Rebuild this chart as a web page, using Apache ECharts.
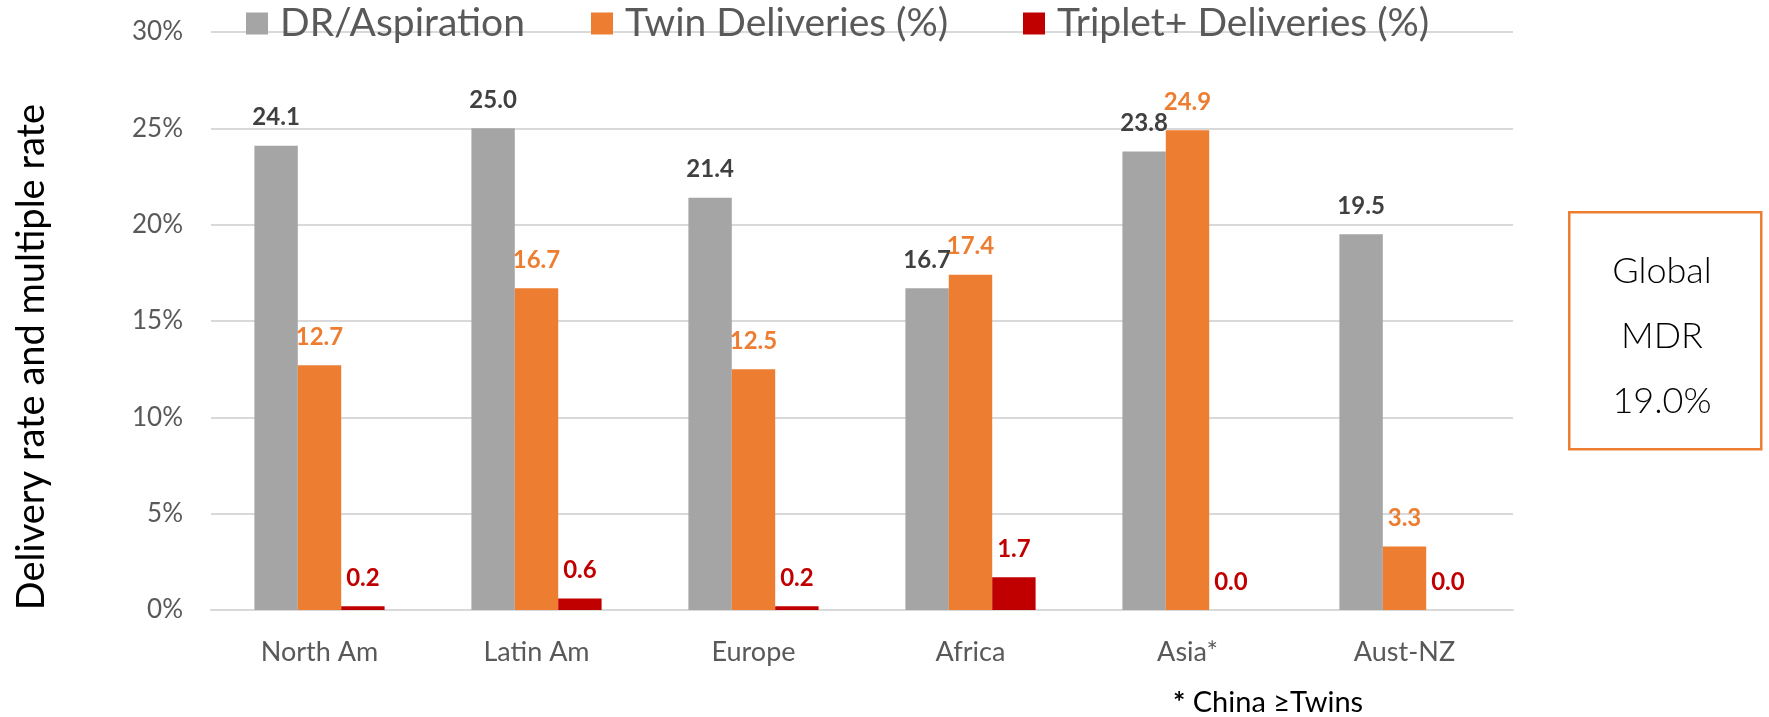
<!DOCTYPE html>
<html>
<head>
<meta charset="utf-8">
<script src="https://cdn.jsdelivr.net/npm/echarts@6/dist/echarts.min.js"></script>
<style>
  html, body { margin: 0; padding: 0; background: #fff; }
  #chart { width: 1769px; height: 717px; }
</style>
</head>
<body>
<div id="chart"></div>
<script>
var regions = ['North Am', 'Latin Am', 'Europe', 'Africa', 'Asia*', 'Aust-NZ'];
var drAspiration = [24.1, 25.0, 21.4, 16.7, 23.8, 19.5];
var twinDeliveries = [12.7, 16.7, 12.5, 17.4, 24.9, 3.3];
var tripletDeliveries = [0.2, 0.6, 0.2, 1.7, 0.0, 0.0];
var seriesNames = ['DR/Aspiration', 'Twin Deliveries (%)', 'Triplet+ Deliveries (%)'];
var globalMdr = '19.0%';

var FONT = 'Lato';

// one legend per item so the slots can be spaced like the original
function makeLegend(name, left) {
  return {
    data: [name],
    left: left,
    top: 4,
    padding: 0,
    itemWidth: 22,
    itemHeight: 22,
    icon: 'rect',
    textStyle: { fontFamily: FONT, fontSize: 39, color: '#595959', padding: [0, 0, 0, 7] }
  };
}

function barLabel(color) {
  return {
    show: true,
    position: 'top',
    distance: 16,
    fontFamily: FONT,
    fontWeight: 'bold',
    fontSize: 24,
    color: color,
    formatter: function (p) { return p.value.toFixed(1); }
  };
}

var myChart = echarts.init(document.getElementById('chart'));

var option = {
  backgroundColor: '#ffffff',
  animation: false,
  legend: [
    makeLegend(seriesNames[0], 246),
    makeLegend(seriesNames[1], 591),
    makeLegend(seriesNames[2], 1023)
  ],
  grid: { left: 211, right: 256, top: 32, bottom: 107 },
  xAxis: {
    type: 'category',
    data: regions,
    axisLine: { lineStyle: { color: '#d9d9d9', width: 2 } },
    axisTick: { show: false },
    axisLabel: { fontFamily: FONT, fontSize: 27, color: '#595959', margin: 29 }
  },
  yAxis: {
    type: 'value',
    min: 0,
    max: 30,
    interval: 5,
    axisLine: { show: false },
    axisTick: { show: false },
    axisLabel: { fontFamily: FONT, fontSize: 26, color: '#595959', margin: 28, formatter: '{value}%' },
    splitLine: { lineStyle: { color: '#d9d9d9', width: 2 } }
  },
  series: [
    {
      name: seriesNames[0],
      type: 'bar',
      data: drAspiration,
      barGap: 0,
      barCategoryGap: '40%',
      itemStyle: { color: '#a5a5a5' },
      label: barLabel('#404040')
    },
    {
      name: seriesNames[1],
      type: 'bar',
      data: twinDeliveries,
      itemStyle: { color: '#ed7d31' },
      label: barLabel('#ed7d31')
    },
    {
      name: seriesNames[2],
      type: 'bar',
      data: tripletDeliveries,
      itemStyle: { color: '#c00000' },
      label: barLabel('#c00000')
    }
  ],
  graphic: [
    // y axis title, sits a bit lower than the plot centre
    {
      type: 'text',
      x: 32,
      y: 357,
      rotation: Math.PI / 2,
      style: {
        text: 'Delivery rate and multiple rate',
        font: '38px ' + FONT,
        fill: '#000000',
        align: 'center',
        verticalAlign: 'middle'
      }
    },
    {
      type: 'rect',
      left: 1568,
      top: 211,
      shape: { width: 192, height: 237 },
      style: { fill: '#ffffff', stroke: '#ed7d31', lineWidth: 2.5 }
    },
    {
      type: 'text',
      x: 1662,
      y: 336,
      style: {
        text: 'Global\nMDR\n' + globalMdr,
        font: '300 36px ' + FONT,
        fill: '#000000',
        align: 'center',
        verticalAlign: 'middle',
        lineHeight: 65
      }
    },
    {
      type: 'text',
      x: 1173,
      y: 703,
      style: {
        text: '{b|*} China \u2265Twins',
        font: '29px ' + FONT,
        fill: '#000000',
        verticalAlign: 'middle',
        rich: { b: { fontFamily: FONT, fontSize: 29, fontWeight: 'bold', fill: '#000000' } }
      }
    }
  ]
};

myChart.setOption(option);
</script>
</body>
</html>
